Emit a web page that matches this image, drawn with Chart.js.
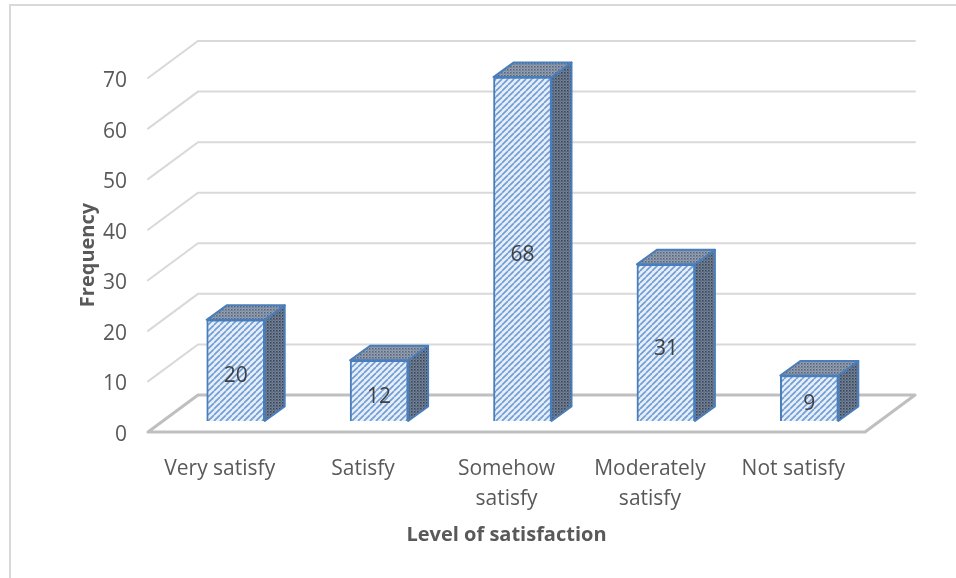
<!DOCTYPE html>
<html>
<head>
<meta charset="utf-8">
<script src="https://cdn.jsdelivr.net/npm/chart.js@4/dist/chart.umd.min.js"></script>
<style>
  html, body { margin: 0; padding: 0; background: #ffffff; }
  #wrap { width: 956px; height: 578px; }
</style>
</head>
<body>
<div id="wrap"><canvas id="chart" width="956" height="578"></canvas></div>
<script>
// Survey results: how satisfied respondents were
const categories = [['Very satisfy'], ['Satisfy'], ['Somehow', 'satisfy'], ['Moderately', 'satisfy'], ['Not satisfy']];
const frequency = [20, 12, 68, 31, 9];
const yMin = 0;
const yMax = 70;
const yStep = 10;

const FONT = "'Open Sans', 'Liberation Sans', sans-serif";
const TEXT = '#595959';

// 3D look: depth of the wall/floor, and where the bars sit inside that depth
const WALL_DX = 50, WALL_DY = -37;
const BAR_SHIFT_X = 16, BAR_SHIFT_Y = -11;
const BAR_DX = 20, BAR_DY = -14.5;

const canvas = document.getElementById('chart');
const ctx = canvas.getContext('2d');

function makeTile(w, h, paint) {
  const c = document.createElement('canvas');
  c.width = w; c.height = h;
  paint(c.getContext('2d'), w, h);
  return ctx.createPattern(c, 'repeat');
}

// upward diagonal hatch for the bar fronts
const frontFill = makeTile(6, 6, (g, w, h) => {
  g.fillStyle = '#e6eef8';
  g.fillRect(0, 0, w, h);
  g.strokeStyle = '#709cd6';
  g.lineWidth = 1.6;
  g.beginPath();
  for (const o of [-w, 0, w]) { g.moveTo(o, h); g.lineTo(o + w, 0); }
  g.stroke();
});

// fine dotted texture for the side and top faces
function dotted(base, dot) {
  return makeTile(3, 3, (g, w, h) => {
    g.fillStyle = base;
    g.fillRect(0, 0, w, h);
    g.fillStyle = dot;
    g.fillRect(0, 0, 1.5, 1.5);
    g.fillRect(1.5, 1.5, 1, 1);
  });
}
const sideFill = dotted('#76849a', '#364254');
const topFill = dotted('#97a3b4', '#546278');
const EDGE = '#4a7ebb';

const chartBox = {
  id: 'chartBox',
  beforeDraw(chart) {
    const c = chart.ctx;
    c.save();
    c.fillStyle = '#ffffff';
    c.fillRect(0, 0, chart.width, chart.height);
    c.strokeStyle = '#d9d9d9';
    c.lineWidth = 2;
    c.beginPath();
    c.moveTo(10, chart.height);
    c.lineTo(10, 5);
    c.lineTo(chart.width, 5);
    c.stroke();
    c.restore();
  }
};

const walls3d = {
  id: 'walls3d',
  beforeDatasetsDraw(chart) {
    const c = chart.ctx;
    const a = chart.chartArea;
    const ys = chart.scales.y;
    c.save();
    c.lineCap = 'round';
    // back wall gridlines + side wall diagonals
    ys.ticks.forEach(t => {
      const y = ys.getPixelForValue(t.value);
      if (t.value === yMin) return;
      c.strokeStyle = '#d9d9d9';
      c.lineWidth = 2;
      c.beginPath();
      c.moveTo(a.left, y);
      c.lineTo(a.left + WALL_DX, y + WALL_DY);
      c.lineTo(a.right + WALL_DX, y + WALL_DY);
      c.stroke();
    });
    // floor
    const y0 = ys.getPixelForValue(yMin);
    c.strokeStyle = '#bfbfbf';
    c.lineWidth = 3;
    c.lineJoin = 'round';
    c.beginPath();
    c.moveTo(a.left, y0);
    c.lineTo(a.right, y0);
    c.lineTo(a.right + WALL_DX, y0 + WALL_DY);
    c.lineTo(a.left + WALL_DX, y0 + WALL_DY);
    c.closePath();
    c.stroke();
    c.restore();

    // the bar fronts sit part way into the floor depth
    c.save();
    c.translate(BAR_SHIFT_X, BAR_SHIFT_Y);
  },
  afterDatasetsDraw(chart) {
    const c = chart.ctx;
    c.restore();
    const meta = chart.getDatasetMeta(0);
    const data = chart.data.datasets[0].data;
    c.save();
    c.lineJoin = 'round';
    c.lineWidth = 2;
    c.strokeStyle = EDGE;
    meta.data.forEach((bar, i) => {
      const p = bar.getProps(['x', 'y', 'base', 'width'], true);
      const l = p.x - p.width / 2 + BAR_SHIFT_X;
      const r = p.x + p.width / 2 + BAR_SHIFT_X;
      const t = p.y + BAR_SHIFT_Y;
      const b = p.base + BAR_SHIFT_Y;
      // side face
      c.fillStyle = sideFill;
      c.beginPath();
      c.moveTo(r, t);
      c.lineTo(r + BAR_DX, t + BAR_DY);
      c.lineTo(r + BAR_DX, b + BAR_DY);
      c.lineTo(r, b);
      c.closePath();
      c.fill();
      c.stroke();
      // top face
      c.fillStyle = topFill;
      c.beginPath();
      c.moveTo(l, t);
      c.lineTo(l + BAR_DX, t + BAR_DY);
      c.lineTo(r + BAR_DX, t + BAR_DY);
      c.lineTo(r, t);
      c.closePath();
      c.fill();
      c.stroke();
      // value label on the front face
      c.fillStyle = '#404040';
      c.font = '21px ' + FONT;
      c.textAlign = 'center';
      c.textBaseline = 'middle';
      c.fillText(String(data[i]), (l + r) / 2, (t + b) / 2 + 6);
    });
    c.restore();
  }
};

new Chart(canvas, {
  type: 'bar',
  data: {
    labels: categories,
    datasets: [{
      data: frequency,
      backgroundColor: frontFill,
      borderColor: EDGE,
      borderWidth: 2,
      barThickness: 58,
      clip: false
    }]
  },
  options: {
    responsive: false,
    animation: false,
    events: [],
    layout: { padding: { left: 72, right: 91, top: 78, bottom: 27 } },
    plugins: {
      legend: { display: false },
      tooltip: { enabled: false }
    },
    scales: {
      x: {
        grid: { display: false, drawTicks: false },
        border: { display: false },
        ticks: {
          color: TEXT,
          padding: 22,
          maxRotation: 0,
          autoSkip: false,
          font: { family: FONT, size: 21, lineHeight: 1.42 }
        },
        title: {
          display: true,
          text: 'Level of satisfaction',
          color: TEXT,
          font: { family: FONT, size: 20, weight: 'bold', lineHeight: 1.2 },
          padding: { top: 4, bottom: 4 }
        },
        afterFit(scale) { scale.height = 119; }
      },
      y: {
        min: yMin,
        max: yMax,
        grid: { display: false, drawTicks: false },
        border: { display: false },
        ticks: {
          stepSize: yStep,
          color: TEXT,
          padding: 21,
          labelOffset: 3,
          font: { family: FONT, size: 21 }
        },
        title: {
          display: true,
          text: 'Frequency',
          color: TEXT,
          font: { family: FONT, size: 20, weight: 'bold', lineHeight: 1.2 },
          padding: { top: 4, bottom: 4 }
        },
        afterFit(scale) { scale.width = 76; }
      }
    }
  },
  plugins: [chartBox, walls3d]
});
</script>
</body>
</html>
